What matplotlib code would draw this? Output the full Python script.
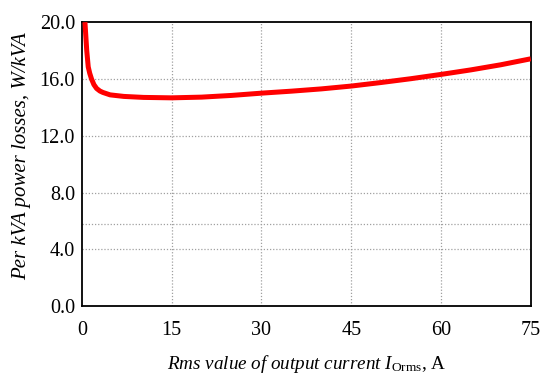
import numpy as np
import matplotlib.pyplot as plt

# values
current = [0.5, 0.8, 1.05, 1.3, 1.6, 2.0, 2.45, 3.0, 3.5, 4.7, 7.0, 10.3, 15, 20, 25, 30, 35, 40, 45, 50, 55, 60, 65, 70, 75]
losses = [20.0, 18.0, 16.85, 16.4, 16.0, 15.6, 15.33, 15.15, 15.05, 14.88, 14.77, 14.7, 14.67, 14.72, 14.84, 15.0, 15.14, 15.3, 15.5, 15.75, 16.02, 16.32, 16.64, 17.0, 17.42]

xticks = [0, 15, 30, 45, 60, 75]
yticks = [0.0, 4.0, 8.0, 12.0, 16.0, 20.0]
extra_grid = 5.8

plt.rcParams['font.family'] = ['Liberation Serif', 'DejaVu Serif']
plt.rcParams['mathtext.fontset'] = 'custom'
plt.rcParams['mathtext.rm'] = 'Liberation Serif'
plt.rcParams['mathtext.it'] = 'Liberation Serif:italic'

fig = plt.figure(figsize=(5.5, 3.76), dpi=100)
ax = fig.add_axes([0.149, 0.186, 0.816, 0.755])

ax.plot(current, losses, color='#ff0000', linewidth=3.6, solid_capstyle='butt', zorder=3)

ax.set_xlim(0, 75)
ax.set_ylim(0, 20)
ax.set_xticks(xticks)
ax.set_yticks(yticks)
ax.set_yticklabels(['%.1f' % v for v in yticks])
ax.tick_params(length=0, labelsize=14.5)
ax.tick_params(axis='x', pad=11)
ax.tick_params(axis='y', pad=5)

for v in xticks[1:-1]:
    ax.axvline(v, color='#a0a0a0', linestyle=(0, (1, 1.5)), linewidth=0.9, zorder=1)
for v in yticks[1:-1] + [extra_grid]:
    ax.axhline(v, color='#a0a0a0', linestyle=(0, (1, 1.5)), linewidth=0.9, zorder=1)

for s in ax.spines.values():
    s.set_linewidth(1.3)

ax.set_xlabel(r'$\it{Rms\ value\ of\ output\ current\ I}$' + r'$_{\rm Orms}$' + r'$\it{,}$ A', fontsize=13.8)
ax.set_ylabel('Per kVA power losses, W/kVA', fontsize=15, fontstyle='italic')
ax.xaxis.set_label_coords(0.5, -0.165)
ax.yaxis.set_label_coords(-0.113, 0.528)

fig.savefig('out.png', dpi=100)
